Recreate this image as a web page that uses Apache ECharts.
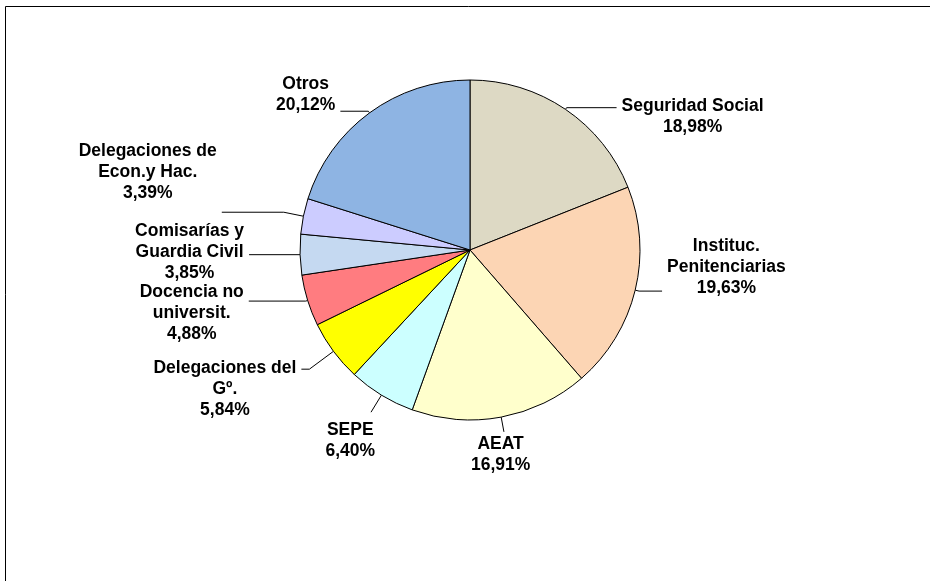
<!DOCTYPE html>
<html>
<head>
<meta charset="utf-8">
<title>Distribución</title>
<script src="https://cdn.jsdelivr.net/npm/echarts@6/dist/echarts.min.js"></script>
<style>
	html, body { margin: 0; padding: 0; background: #fff; overflow: hidden; }
	#pie_chart { width: 930px; height: 581px; }
</style>
</head>
<body>
<div id="pie_chart"></div>
<script>
// categorías (lineas de la etiqueta) y porcentajes
var categories = [
	['Seguridad Social'],
	['Instituc.', 'Penitenciarias'],
	['AEAT'],
	['SEPE'],
	['Delegaciones del', 'Gº.'],
	['Docencia no', 'universit.'],
	['Comisarías y', 'Guardia Civil'],
	['Delegaciones de', 'Econ.y Hac.'],
	['Otros']
];
var values = [18.98, 19.63, 16.91, 6.40, 5.84, 4.88, 3.85, 3.39, 20.12];
var colors = ['#DDD9C4', '#FCD5B4', '#FFFFCC', '#CCFFFF', '#FFFF00', '#FF7C80', '#C5D9F1', '#CCCCFF', '#8EB4E3'];

// ajuste de las lineas guia: [length, length2, distancia, padding]
var guides = [
	[2, 50, 5, [18, 0, 0, 0]],
	[4, 23, 5, [0, 0, 48, 0]],
	[15, 0, -33, [46, 0, 0, 0]],
	[20, 0, -4, [56, 0, 0, 0]],
	[30, 8, 5, [40, 0, 0, 0]],
	[2, 57, 5, [24, 0, 0, 0]],
	[1, 50, 5, [0, 0, 6, 0]],
	[20, 62, 5, [0, 0, 81, 0]],
	[2, 28, 5, [0, 0, 33, 0]]
];

var fmt = function(v) {
	return v.toFixed(2).replace('.', ',') + '%';
};

var setPie = function() {
	var myChart = echarts.init(document.getElementById('pie_chart'));
	var list = [];
	for (var i = 0; i < values.length; i++) {
		var g = guides[i];
		list.push({
			value: values[i],
			name: categories[i].join(' '),
			lines: categories[i],
			itemStyle: { color: colors[i] },
			label: { distanceToLabelLine: g[2], padding: g[3] },
			labelLine: { length: g[0], length2: g[1] }
		});
	}
	myChart.setOption({
		animation: false,
		graphic: [{
			type: 'rect',
			shape: { x: 5.5, y: 6.5, width: 1000, height: 1000 },
			style: { fill: 'none', stroke: '#000', lineWidth: 1 }
		}],
		series: [{
			type: 'pie',
			center: [470, 250],
			radius: 170,
			startAngle: 90,
			clockwise: true,
			avoidLabelOverlap: false,
			itemStyle: { borderColor: '#000', borderWidth: 1 },
			emphasis: { disabled: true },
			label: {
				show: true,
				position: 'outside',
				formatter: function(p) {
					var rows = p.data.lines.concat([fmt(p.value)]);
					return rows.map(function(t) { return '{a|' + t + '}'; }).join('\n');
				},
				rich: {
					a: {
						align: 'center',
						fontFamily: '"Liberation Sans", Arial, sans-serif',
						fontWeight: 'bold',
						fontSize: 17.5,
						lineHeight: 21,
						color: '#000'
					}
				}
			},
			labelLine: {
				show: true,
				lineStyle: { color: '#000', width: 1 }
			},
			data: list
		}]
	});
};
setPie();
</script>
</body>
</html>
